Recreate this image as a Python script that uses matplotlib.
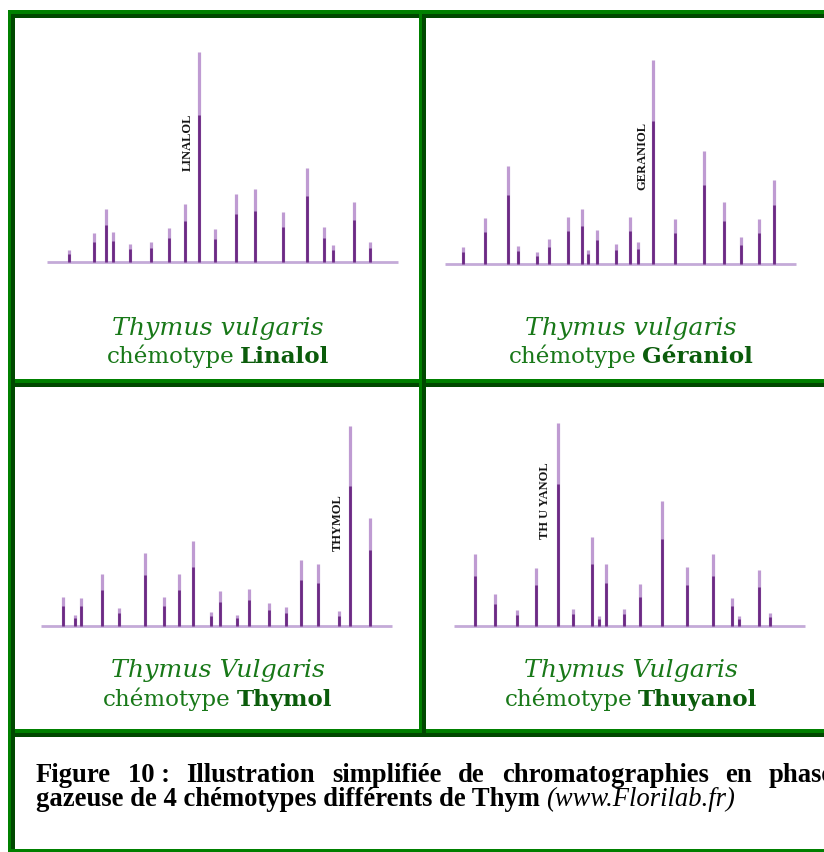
import matplotlib
matplotlib.use('Agg')
import matplotlib.pyplot as plt
from matplotlib.patches import Rectangle

W, H = 824, 852
BRIGHT = '#008000'
DARK = '#004800'
TXT_GREEN = '#187818'
NAME_GREEN = '#0b5c0b'
PEAK_DARK = '#6c2a84'
PEAK_LIGHT = '#bf9bd2'
BASE_COL = '#c4aad8'

# peak positions along the baseline and peak heights
linalol_rt = [22, 47, 59, 66, 83, 104, 122, 138, 152, 168, 189, 208, 236, 260, 277, 286, 307, 323]
linalol_h = [12, 29, 53, 30, 18, 20, 34, 58, 210, 33, 68, 73, 50, 94, 35, 17, 60, 20]

geraniol_rt = [18, 40, 63, 73, 92, 104, 123, 137, 143, 152, 171, 185, 193, 208, 230, 259, 279, 296, 314, 329]
geraniol_h = [17, 46, 98, 18, 12, 25, 47, 55, 14, 34, 20, 47, 22, 204, 45, 113, 62, 27, 45, 84]

thymol_rt = [22, 34, 40, 61, 78, 104, 123, 138, 152, 170, 179, 196, 208, 228, 245, 260, 277, 298, 309, 329]
thymol_h = [29, 11, 28, 52, 18, 73, 29, 52, 85, 14, 35, 11, 37, 23, 19, 66, 62, 15, 200, 108]

thuyanol_rt = [21, 41, 63, 82, 104, 119, 138, 145, 152, 170, 186, 208, 233, 259, 278, 285, 305, 316]
thuyanol_h = [72, 32, 16, 58, 203, 17, 89, 10, 62, 17, 42, 125, 59, 72, 28, 10, 56, 13]

species = ['Thymus vulgaris', 'Thymus vulgaris', 'Thymus Vulgaris', 'Thymus Vulgaris']
chemotypes = ['Linalol', 'Géraniol', 'Thymol', 'Thuyanol']
peak_labels = ['LINALOL', 'GERANIOL', 'THYMOL', 'TH U YANOL']
label_rt = [141, 197, 297, 91]
label_h = [120, 108, 103, 125]

caption1_words = ['Figure', '10\u00a0:', 'Illustration', 'simplifiée', 'de',
                  'chromatographies', 'en', 'phase']
caption2_bold = 'gazeuse de 4 chémotypes différents de Thym'
caption2_ital = '(www.Florilab.fr)'

rts = [linalol_rt, geraniol_rt, thymol_rt, thuyanol_rt]
heights = [linalol_h, geraniol_h, thymol_h, thuyanol_h]

# panel layout in pixels: baseline start x, baseline y, title centre x, title baselines
layout = [(47, 262, 218, 335, 363),
          (445, 264, 631, 335, 363),
          (41, 626, 218, 677, 706),
          (454, 626, 631, 677, 706)]

fig = plt.figure(figsize=(W / 100, H / 100), dpi=100)
bg = fig.add_axes([0, 0, 1, 1])
bg.set_xlim(0, W)
bg.set_ylim(H, 0)
bg.axis('off')


def hband(y, x0, x1):
    bg.add_patch(Rectangle((x0, y), x1 - x0, 4, color=BRIGHT, lw=0))
    bg.add_patch(Rectangle((x0 + 4, y + 4), x1 - x0, 4, color=DARK, lw=0))


def vband(x, y0, y1):
    bg.add_patch(Rectangle((x, y0), 3.5, y1 - y0, color=BRIGHT, lw=0))
    bg.add_patch(Rectangle((x + 3.5, y0 + 4), 3.5, y1 - y0, color=DARK, lw=0))


hband(10, 8, W + 5)
hband(379, 8, W + 5)
hband(729, 8, W + 5)
vband(8, 10, H)
vband(419, 10, 733)
bg.add_patch(Rectangle((8, 849), W, 4, color=BRIGHT, lw=0))

r = fig.canvas.get_renderer()


def tw(t):
    return t.get_window_extent(renderer=r).width


for i in range(4):
    x0, base, cx, y1, y2 = layout[i]
    ax = fig.add_axes([x0 / W, (H - base) / H, 351 / W, 230 / H])
    ax.set_xlim(0, 351)
    ax.set_ylim(0, 230)
    ax.axis('off')
    ax.patch.set_alpha(0)
    ax.hlines(0, 0, 351, color=BASE_COL, lw=2, clip_on=False)
    ax.vlines(rts[i], 0, heights[i], color=PEAK_LIGHT, lw=2.3, clip_on=False)
    ax.vlines(rts[i], 0, [v * 0.7 for v in heights[i]], color=PEAK_DARK, lw=2.0, clip_on=False)
    ax.text(label_rt[i], label_h[i], peak_labels[i], rotation=90, ha='center', va='center',
            fontsize=9, weight='bold', family='Liberation Serif', color='#151515')

    bg.text(cx, y1, species[i], ha='center', va='baseline', style='italic',
            fontsize=18.2, color=TXT_GREEN, family='DejaVu Serif')
    t1 = bg.text(0, y2, 'chémotype', ha='left', va='baseline', fontsize=16.6,
                 color=TXT_GREEN, family='DejaVu Serif')
    t2 = bg.text(0, y2, chemotypes[i], ha='left', va='baseline', fontsize=16.6,
                 weight='bold', color=NAME_GREEN, family='DejaVu Serif')
    gap = 6
    w1, w2 = tw(t1), tw(t2)
    start = cx - (w1 + gap + w2) / 2
    t1.set_x(start)
    t2.set_x(start + w1 + gap)

# caption: fit line 2 to its width, then justify line 1
cap_font = 'Liberation Serif'
tb = bg.text(36, 806, caption2_bold, fontsize=10, weight='bold', family=cap_font, va='baseline')
ti = bg.text(36, 806, caption2_ital, fontsize=10, style='italic', family=cap_font, va='baseline')
size = 10 * (738 - 36) / (tw(tb) + tw(ti) + 2.5)
tb.set_fontsize(size)
ti.set_fontsize(size)
ti.set_x(36 + tw(tb) + size * 0.25 * 100 / 72)

wt = [bg.text(0, 782, w, fontsize=size, weight='bold', family=cap_font, va='baseline')
      for w in caption1_words]
widths = [tw(t) for t in wt]
space = (834 - 36 - sum(widths)) / (len(wt) - 1)
x = 36
for t, w in zip(wt, widths):
    t.set_x(x)
    x += w + space

plt.savefig('out.png', dpi=100)
